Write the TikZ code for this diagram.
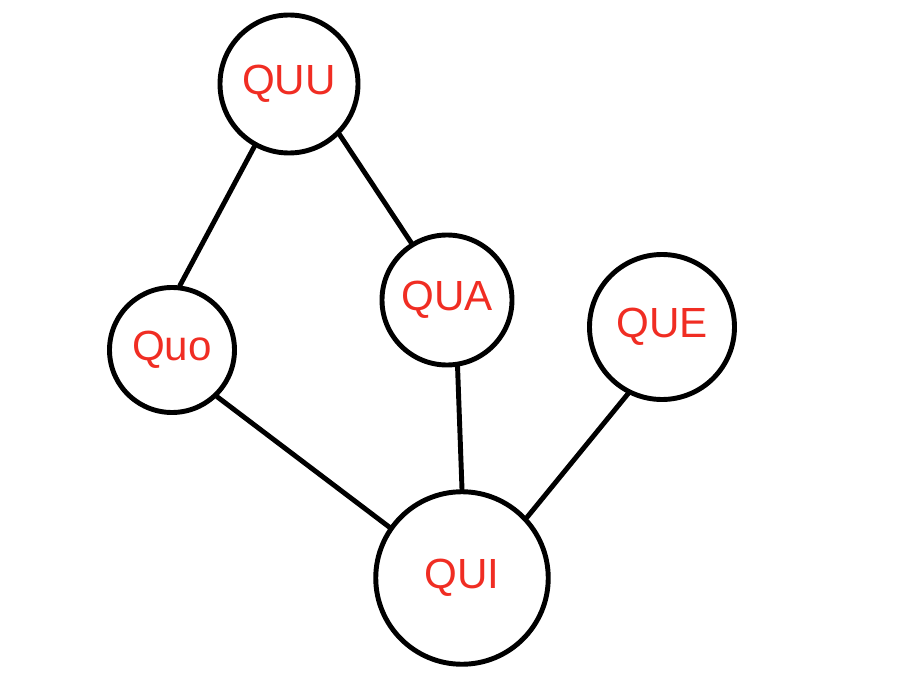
\documentclass[tikz,border=0pt]{standalone}
\usepackage{fontspec}
\setmainfont{Liberation Sans}
\usepackage{tikz}

\definecolor{penred}{RGB}{240,45,35}

\begin{document}
\begin{tikzpicture}[x=0.2mm,y=-0.2mm,line width=2.8pt]
    % `bubble' is used for every vertex, `link' for the edges.
    \tikzstyle{bubble} = [draw,circle,inner sep=0pt,text=penred,font=\fontsize{24}{28}\selectfont]
    \tikzstyle{link} = [draw,line cap=round]
    %
    \useasboundingbox (0,0) rectangle (900,675);
    \node[bubble,minimum size=27.6mm] (quu) at (289,84) {QUU};
    \node[bubble,minimum size=25mm] (quo) at (172,350) {Quo};
    \node[bubble,minimum size=26mm] (qua) at (447,300) {QUA};
    \node[bubble,minimum size=29mm] (que) at (662,327) {QUE};
    \node[bubble,minimum size=34.5mm] (qui) at (462,578) {QUI};
    %
    \draw[link] (quu.241) -- (quo.83)   (quu.315) -- (qua.122)
                (quo.314) -- (qui.145)  (qua.279) -- (qui.90)
                (que.243) -- (qui.43);
\end{tikzpicture}
\end{document}
